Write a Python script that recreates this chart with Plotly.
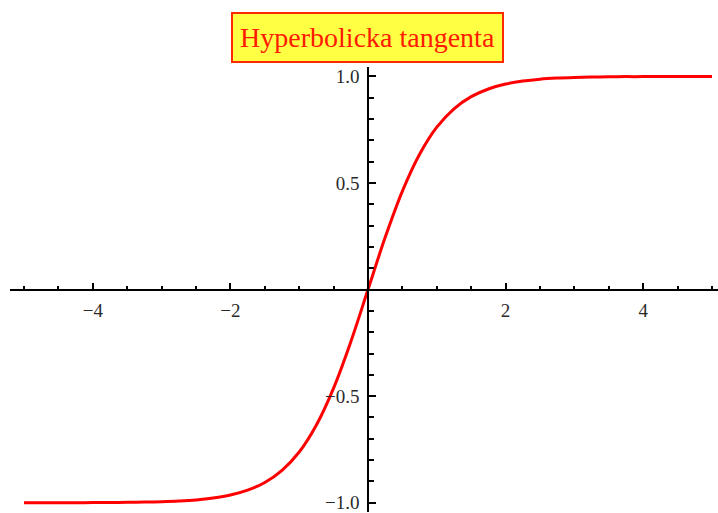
import plotly.graph_objects as go

# Hyperbolic tangent, sampled values
x_vals = [-5.0, -4.75, -4.5, -4.25, -4.0, -3.75, -3.5, -3.25, -3.0, -2.75, -2.5, -2.25,
          -2.0, -1.75, -1.5, -1.25, -1.0, -0.75, -0.5, -0.25, 0.0,
          0.25, 0.5, 0.75, 1.0, 1.25, 1.5, 1.75, 2.0, 2.25, 2.5, 2.75,
          3.0, 3.25, 3.5, 3.75, 4.0, 4.25, 4.5, 4.75, 5.0]
y_vals = [-1.0, -1.0, -1.0, -1.0, -0.999, -0.999, -0.998, -0.997, -0.995, -0.992, -0.987, -0.978,
          -0.964, -0.941, -0.905, -0.848, -0.762, -0.635, -0.462, -0.245, 0.0,
          0.245, 0.462, 0.635, 0.762, 0.848, 0.905, 0.941, 0.964, 0.978, 0.987, 0.992,
          0.995, 0.997, 0.998, 0.999, 0.999, 1.0, 1.0, 1.0, 1.0]

x_major = [-4, -2, 2, 4]
x_major_text = ["\u22124", "\u22122", "2", "4"]
x_minor = [v * 0.5 for v in range(-10, 11) if v % 4 != 0]

y_major = [-1.0, -0.5, 0.5, 1.0]
y_major_text = ["\u22121.0", "\u22120.5", "0.5", "1.0"]
y_minor = [v / 10 for v in range(-10, 11) if v % 5 != 0]

title_text = "Hyperbolicka tangenta"

W, H = 718, 513
x0_px, px_per_x = 368.0, 68.8
y0_px, px_per_y = 289.7, 214.0
x_left_px, y_top_px = 10, 66

fig = go.Figure()
fig.add_trace(go.Scatter(
    x=x_vals, y=y_vals, mode="lines",
    line=dict(color="#ff0000", width=3, shape="spline", smoothing=1.0),
    hoverinfo="skip", showlegend=False,
))

x_range = [(x_left_px - x0_px) / px_per_x, (W - x0_px) / px_per_x]
y_range = [(y0_px - H) / px_per_y, (y0_px - y_top_px) / px_per_y]

tick_font = dict(family="Liberation Serif, Times New Roman, serif", size=19, color="#2a2a2a")

fig.update_layout(
    width=W, height=H,
    margin=dict(l=0, r=0, t=0, b=0),
    paper_bgcolor="white", plot_bgcolor="white",
    xaxis=dict(
        domain=[x_left_px / W, 1], range=x_range,
        anchor="free", position=(0 - y_range[0]) / (y_range[1] - y_range[0]) * (1 - y_top_px / H),
        showgrid=False, zeroline=False,
        showline=True, linecolor="black", linewidth=1.5,
        tickmode="array", tickvals=x_major, ticktext=x_major_text,
        ticks="inside", ticklen=6, tickwidth=1.5, tickcolor="black",
        tickfont=tick_font, ticklabeloverflow="allow", ticklabelstandoff=4,
        minor=dict(tickmode="array", tickvals=x_minor, ticks="inside", ticklen=3,
                   tickwidth=1.5, tickcolor="black", showgrid=False),
    ),
    yaxis=dict(
        domain=[0, 1 - y_top_px / H], range=y_range,
        anchor="free", position=(0 - x_range[0]) / (x_range[1] - x_range[0]) * (1 - x_left_px / W) + x_left_px / W,
        showgrid=False, zeroline=False,
        showline=True, linecolor="black", linewidth=1.5,
        tickmode="array", tickvals=y_major, ticktext=y_major_text,
        ticks="inside", ticklen=7, tickwidth=1.5, tickcolor="black",
        tickfont=tick_font, ticklabeloverflow="allow", ticklabelstandoff=4,
        minor=dict(tickmode="array", tickvals=y_minor, ticks="inside", ticklen=5,
                   tickwidth=1.5, tickcolor="black", showgrid=False),
    ),
)

fig.add_annotation(
    x=367.5 / W, y=1 - 36.5 / H, xref="paper", yref="paper",
    xanchor="center", yanchor="middle", showarrow=False,
    text=title_text,
    font=dict(family="Liberation Serif, Times New Roman, serif", size=28, color="#ff1a00"),
    bgcolor="#ffff44", bordercolor="#ff2a00", borderwidth=2,
    borderpad=2, width=265, height=43,
)

fig.write_html("out.html")
